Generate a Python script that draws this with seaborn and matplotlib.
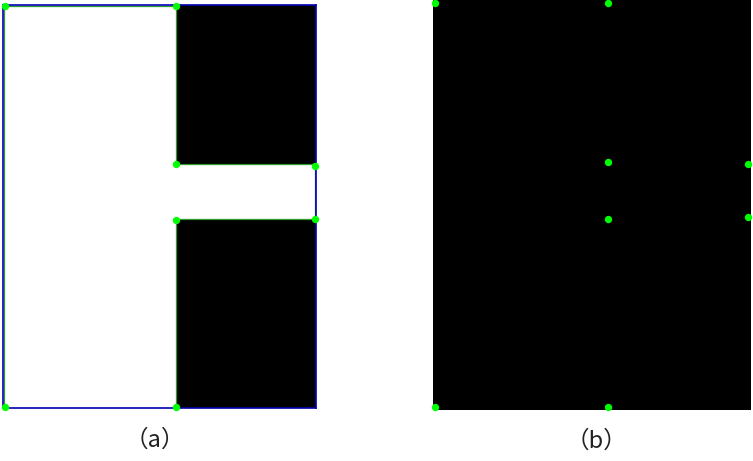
import matplotlib
matplotlib.use("Agg")
import matplotlib.pyplot as plt
from matplotlib.patches import Rectangle
import seaborn as sns
import pandas as pd

sns.set_theme(style="white")
plt.rcParams['font.family'] = ['Noto Sans CJK JP', 'DejaVu Sans']

# panel sizes (image pixels)
a_w, a_h = 313, 403
b_w, b_h = 318, 410

# black regions of panel (a): x0, y0, x1, y1 (image coords, y down)
a_black = [(173, 0, 313, 159.5), (173, 214, 313, 403)]
# green contour of the white region in (a)
a_contour_x = [0.8, 173, 173, 312, 312, 173]
a_contour_y = [0.8, 0.8, 159.5, 159.5, 214, 214]
a_left_x = [0.8, 0.8]
a_left_y = [0.8, 402]
a_div_x = [173, 173]
a_div_y = [214, 403]

# corner points detected on each panel
a_pts_x = [2, 173, 173, 312, 173, 312, 2, 173]
a_pts_y = [1, 1, 159, 161, 215, 214, 402, 402]
b_pts_x = [2, 175, 175, 315, 175, 315, 2, 175]
b_pts_y = [3, 3, 162, 164, 219, 217, 407, 407]

labels = ["（a）", "（b）"]

W, H = 753, 461
fig = plt.figure(figsize=(W / 100, H / 100), dpi=100)
ax_a = fig.add_axes([3 / W, (H - 408) / H, a_w / W, a_h / H])
ax_b = fig.add_axes([433 / W, (H - 410) / H, b_w / W, b_h / H])

# panel (a)
ax_a.set_facecolor("white")
for x0, y0, x1, y1 in a_black:
    ax_a.add_patch(Rectangle((x0, y0), x1 - x0, y1 - y0, color="black", lw=0))
for xs, ys in [(a_contour_x, a_contour_y), (a_left_x, a_left_y), (a_div_x, a_div_y)]:
    ax_a.plot(xs, ys, color="#2e9a2e", lw=0.9)
df_a = pd.DataFrame({"x": a_pts_x, "y": a_pts_y})
sns.scatterplot(data=df_a, x="x", y="y", ax=ax_a, color="#00ff00",
                s=28, linewidth=0, zorder=5, clip_on=False)
ax_a.set_xlim(0, a_w)
ax_a.set_ylim(a_h, 0)
for sp in ax_a.spines.values():
    sp.set_color("#0000b4")
    sp.set_linewidth(1.2)

# panel (b)
ax_b.set_facecolor("black")
df_b = pd.DataFrame({"x": b_pts_x, "y": b_pts_y})
sns.scatterplot(data=df_b, x="x", y="y", ax=ax_b, color="#00ff00",
                s=28, linewidth=0, zorder=5, clip_on=False)
ax_b.set_xlim(0, b_w)
ax_b.set_ylim(b_h, 0)
for sp in ax_b.spines.values():
    sp.set_visible(False)

for ax, lab in zip([ax_a, ax_b], labels):
    ax.set_xticks([])
    ax.set_yticks([])
    ax.set_xlabel("")
    ax.set_ylabel("")
    ax.text(0.5, -0.08, lab, transform=ax.transAxes, ha="center", va="center",
            fontsize=17, color="#222222")

ax_a.texts[0].set_position((152 / a_w, -0.08))
ax_b.texts[0].set_position((163 / b_w, -0.075))

fig.savefig("out.png", dpi=100, facecolor="white")
